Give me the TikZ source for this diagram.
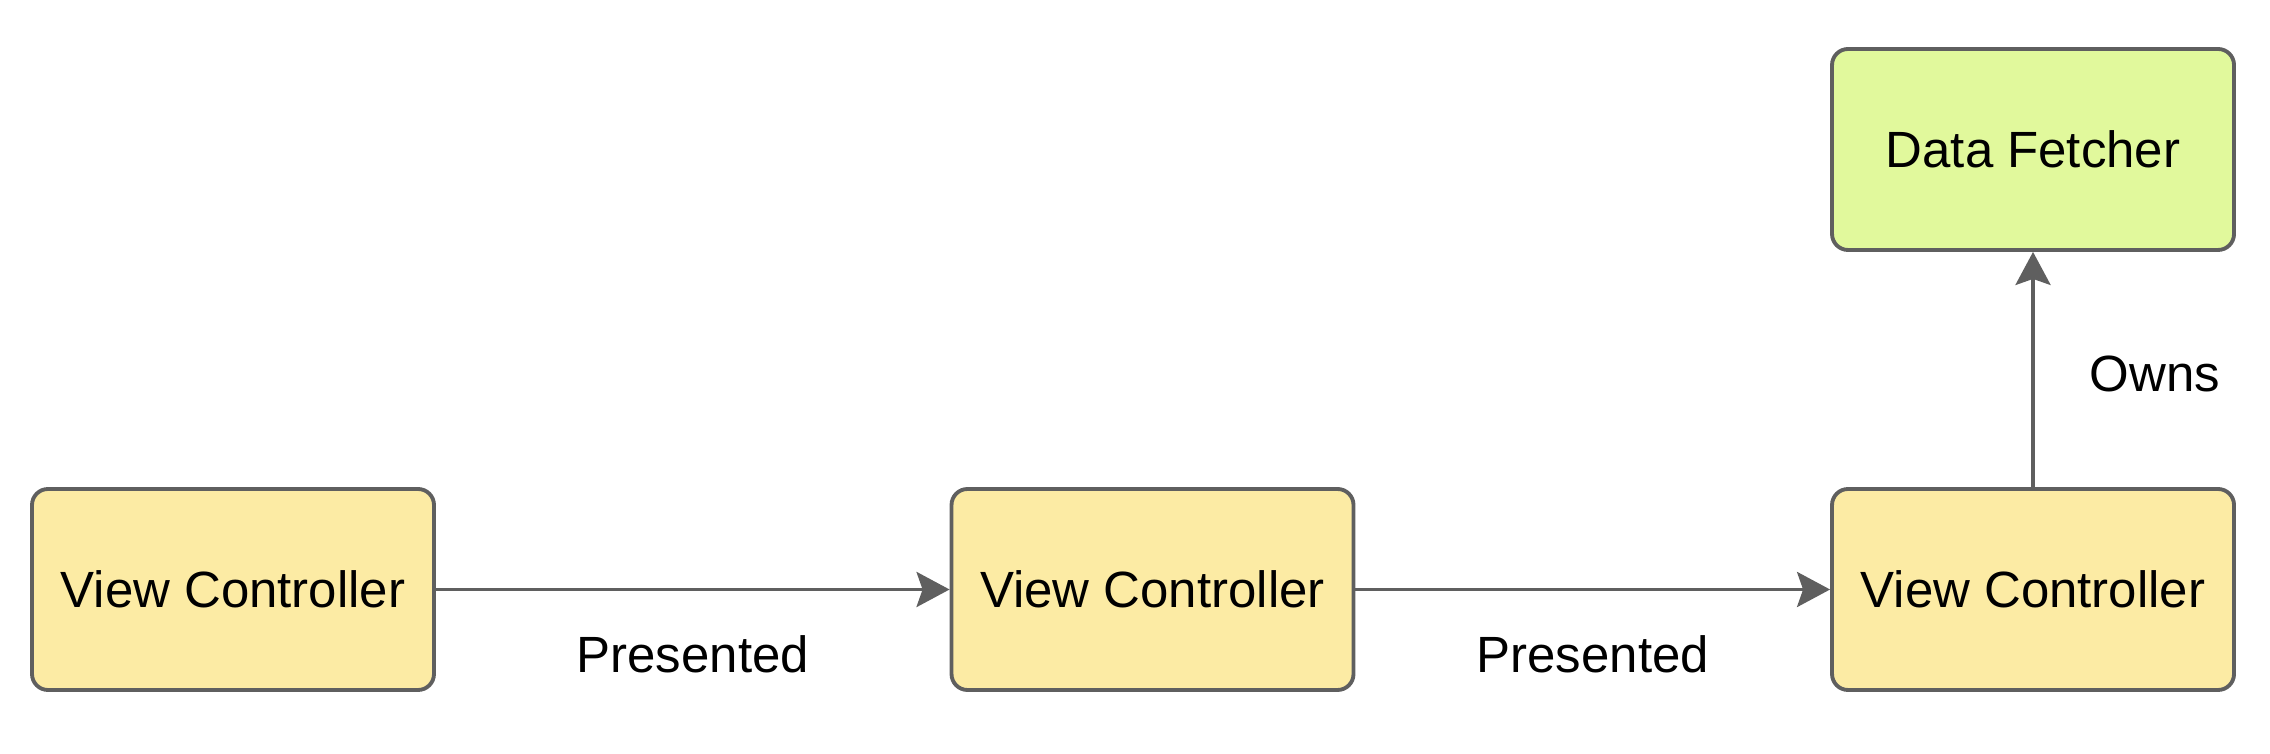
\documentclass[tikz,border=0pt]{standalone}
\usepackage{fontspec}
\setmainfont{Liberation Sans}
\usepackage{tikz}
\usetikzlibrary{arrows.meta}
\definecolor{vcfill}{HTML}{FCEBA4}
\definecolor{dffill}{HTML}{E1F99C}
\definecolor{trait}{HTML}{5F5F5F}
\tikzset{
    boite/.style={draw=trait, line width=1.1pt, rounded corners=0.16cm,
        minimum width=4.02cm, minimum height=2.01cm, inner sep=0pt,
        font=\fontsize{14.5pt}{17pt}\selectfont},
    fleche/.style={draw=trait, line width=1.1pt,
        -{Stealth[length=0.33cm, width=0.35cm, inset=0.06cm]}},
    etiquette/.style={inner sep=0pt, font=\fontsize{14.5pt}{17pt}\selectfont}
}
\begin{document}
\begin{tikzpicture}
            \useasboundingbox (0,0) rectangle (22.7,7.54);
            \foreach \n/\x in {vcA/2.33,vcB/11.525,vcC/20.33} {
                \node[boite, fill=vcfill] (\n) at (\x,1.645) {View Controller};
            }
            \node[boite, fill=dffill] (df) at (20.33,6.045) {Data Fetcher};
            \foreach \u/\v/\p in {vcA/vcB/presA,vcB/vcC/presB} {
                \draw[fleche] (\u) -- node[etiquette, anchor=base, yshift=-0.83cm] (\p) {Presented} (\v);
            }
            \draw[fleche] (vcC) -- node[etiquette, anchor=base west, xshift=0.55cm, yshift=-0.22cm] (owns) {Owns} (df);
        \end{tikzpicture}
\end{document}
